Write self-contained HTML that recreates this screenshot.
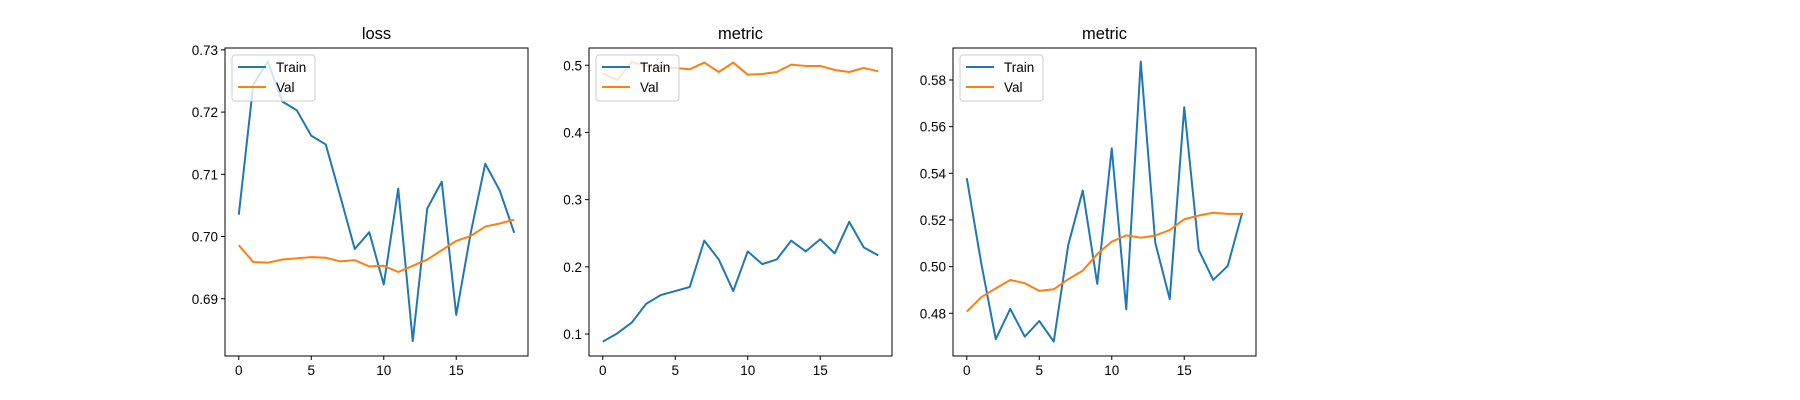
<!DOCTYPE html>
<html><head><meta charset="utf-8"><style>
body{margin:0;background:#fff}
svg{display:block;font-family:"Liberation Sans","DejaVu Sans",sans-serif}
</style></head><body>
<svg id="fig" width="1800" height="400" viewBox="0 0 1800 400"></svg>
<script>
const epochs = [0,1,2,3,4,5,6,7,8,9,10,11,12,13,14,15,16,17,18,19];
const lossTrain = [0.7035,0.7244,0.7281,0.7217,0.7203,0.7162,0.7148,0.7065,0.6980,0.7007,0.6923,0.7077,0.6832,0.7045,0.7088,0.6874,0.7006,0.7117,0.7074,0.7006];
const lossVal = [0.6986,0.6959,0.6958,0.6963,0.6965,0.6967,0.6966,0.6960,0.6962,0.6952,0.6953,0.6943,0.6953,0.6963,0.6978,0.6993,0.7001,0.7016,0.7021,0.7027];
const metric1Train = [0.0886,0.101,0.117,0.145,0.158,0.164,0.170,0.239,0.211,0.164,0.223,0.204,0.211,0.239,0.223,0.241,0.220,0.267,0.229,0.217];
const metric1Val = [0.488,0.478,0.505,0.499,0.496,0.496,0.494,0.504,0.490,0.504,0.486,0.487,0.490,0.501,0.499,0.499,0.493,0.490,0.496,0.491];
const metric2Train = [0.5379,0.5014,0.4689,0.4819,0.4700,0.4767,0.4679,0.5093,0.5326,0.4926,0.5507,0.4817,0.5879,0.5103,0.4861,0.5683,0.5071,0.4943,0.5003,0.5231];
const metric2Val = [0.4807,0.4869,0.4907,0.4943,0.4929,0.4896,0.4903,0.4946,0.4983,0.5054,0.5107,0.5134,0.5124,0.5133,0.5157,0.5203,0.5219,0.5231,0.5226,0.5226];
const xTicks = [0,5,10,15];
const lossTicks = [0.69,0.70,0.71,0.72,0.73];
const m1Ticks = [0.1,0.2,0.3,0.4,0.5];
const m2Ticks = [0.48,0.50,0.52,0.54,0.56,0.58];
const titles = ["loss","metric","metric"];

const NS="http://www.w3.org/2000/svg";
const svgEl=document.getElementById('fig');
function mk(tag,attrs,parent){const e=document.createElementNS(NS,tag);for(const k in attrs)e.setAttribute(k,attrs[k]);(parent||svgEl).appendChild(e);return e;}

const panels=[
 {left:225,train:lossTrain,val:lossVal,ticks:lossTicks,ymin:0.6808,ymax:0.7303,dec:2,name:'loss'},
 {left:589,train:metric1Train,val:metric1Val,ticks:m1Ticks,ymin:0.0673,ymax:0.5257,dec:1,name:'metric-1'},
 {left:953,train:metric2Train,val:metric2Val,ticks:m2Ticks,ymin:0.4617,ymax:0.5937,dec:2,name:'metric-2'}
];
const plotTop=48,plotBottom=356,plotW=303,xmin=-0.95,xmax=19.95;
panels.forEach((p,i)=>{
 const g=mk('g',{});
 
 
 const xs=v=>p.left+(v-xmin)/(xmax-xmin)*plotW;
 const ys=v=>plotBottom-(v-p.ymin)/(p.ymax-p.ymin)*(plotBottom-plotTop);
 const t=mk('text',{x:p.left+plotW/2,y:39,'text-anchor':'middle','font-size':'16.5'},g);t.textContent=titles[i];
 
 
 p.ticks.forEach(v=>{const y=ys(v);mk('line',{x1:p.left-4,x2:p.left,y1:y,y2:y,stroke:'#000','stroke-width':1},g);
  const l=mk('text',{x:p.left-7,y:y+5,'text-anchor':'end','font-size':'13.5'},g);l.textContent=v.toFixed(p.dec);
  
  });
 xTicks.forEach(v=>{const x=xs(v);mk('line',{x1:x,x2:x,y1:plotBottom,y2:plotBottom+4,stroke:'#000','stroke-width':1},g);
  const l=mk('text',{x:x,y:plotBottom+19,'text-anchor':'middle','font-size':'13.5'},g);l.textContent=v;
  
  });
 [[p.train,'#1f77b4','train-line'],[p.val,'#ff7f0e','val-line']].forEach(([arr,c,n])=>{
  const pl=mk('polyline',{points:arr.map((v,k)=>xs(epochs[k])+','+ys(v)).join(' '),fill:'none',stroke:c,'stroke-width':2,'stroke-linejoin':'round'},g);
  
  });
 const lg=mk('g',{},g);
 
 
 mk('rect',{x:p.left+7,y:55,width:83,height:46,rx:3,fill:'#fff','fill-opacity':0.8,stroke:'#ccc'},lg);
 [['Train','#1f77b4',67],['Val','#ff7f0e',87]].forEach(([lab,c,y])=>{
  mk('line',{x1:p.left+13,x2:p.left+41,y1:y,y2:y,stroke:c,'stroke-width':2},lg);
  const tx=mk('text',{x:p.left+51,y:y+5,'font-size':'13.5'},lg);tx.textContent=lab;
  
  });
 mk('rect',{x:p.left,y:plotTop,width:plotW,height:plotBottom-plotTop,fill:'none',stroke:'#000','stroke-width':1},g);
});
</script>
</body></html>
